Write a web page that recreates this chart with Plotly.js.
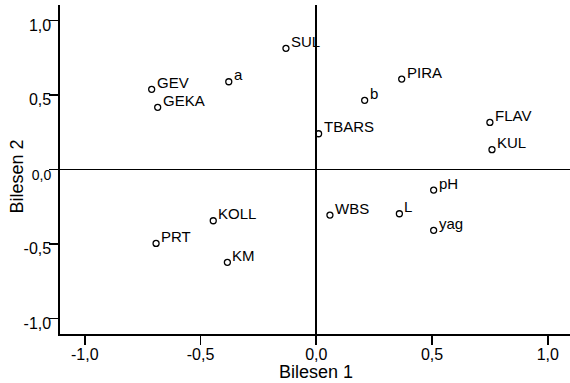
<!DOCTYPE html>
<html>
<head>
<meta charset="utf-8">
<script src="https://cdn.plot.ly/plotly-3.0.1.min.js"></script>
<style>html,body{margin:0;padding:0;background:#fff;}#chart{width:570px;height:383px;}</style>
</head>
<body>
<div id="chart"></div>
<script>
const labels = ["GEV","GEKA","a","SUL","PIRA","b","TBARS","FLAV","KUL","pH","L","yag","WBS","KOLL","PRT","KM"];
const comp1 = [-0.711,-0.685,-0.378,-0.131,0.369,0.209,0.010,0.750,0.759,0.507,0.359,0.507,0.059,-0.445,-0.692,-0.384];
const comp2 = [0.537,0.416,0.588,0.812,0.606,0.463,0.239,0.315,0.132,-0.139,-0.298,-0.409,-0.307,-0.345,-0.497,-0.624];
const tickVals = [-1.0,-0.5,0.0,0.5,1.0];
const tickLabels = ["-1,0","-0,5","0,0","0,5","1,0"];
const xTitle = "Bilesen 1";
const yTitle = "Bilesen 2";

const FONT = "Liberation Sans, Arial, Helvetica, sans-serif";

const trace = {
  x: comp1, y: comp2,
  type: "scatter", mode: "markers",
  marker: {symbol: "circle-open", size: 6, color: "#000", line: {width: 1.3, color: "#000"}},
  hoverinfo: "skip", cliponaxis: false
};

const pointAnnotations = labels.map((t, i) => ({
  x: comp1[i], y: comp2[i], xref: "x", yref: "y",
  text: t, showarrow: false,
  xanchor: "left", yanchor: "middle",
  xshift: 3, yshift: 7,
  font: {family: FONT, size: 15, color: "#000"}
}));

const titleAnnotations = [
  {text: xTitle, xref: "paper", yref: "paper", x: 0.502, y: -0.115,
   xanchor: "center", yanchor: "middle", showarrow: false,
   font: {family: FONT, size: 18, color: "#000"}},
  {text: yTitle, xref: "paper", yref: "paper", x: -0.0843, y: 0.4787,
   xanchor: "center", yanchor: "middle", showarrow: false, textangle: -90,
   font: {family: FONT, size: 18, color: "#000"}}
];

const axisCommon = {
  tickmode: "array", tickvals: tickVals,
  showgrid: false, showline: true, linecolor: "#000", linewidth: 1.6,
  zeroline: true, zerolinecolor: "#000", zerolinewidth: 1.6,
  ticks: "outside", ticklen: 9, tickwidth: 1.6, tickcolor: "#000",
  tickfont: {family: FONT, size: 16, color: "#000"},
  fixedrange: true
};

const layout = {
  width: 570, height: 383,
  margin: {l: 60, r: 0, t: 5, b: 49},
  paper_bgcolor: "#fff", plot_bgcolor: "#fff",
  showlegend: false,
  font: {family: FONT, color: "#000"},
  xaxis: Object.assign({}, axisCommon, {
    range: [-1.107, 1.096],
    ticktext: tickLabels,
    ticklabelstandoff: -4
  }),
  yaxis: Object.assign({}, axisCommon, {
    range: [-1.105, 1.103],
    ticktext: tickLabels.map((t, i) => tickVals[i] === 0 ? '<span style="font-size:14px">' + t + '</span>' : t),
    ticklabelstandoff: -5,
    ticklabelshift: 5
  }),
  annotations: pointAnnotations.concat(titleAnnotations)
};

Plotly.newPlot("chart", [trace], layout, {displayModeBar: false, staticPlot: true});
</script>
</body>
</html>
